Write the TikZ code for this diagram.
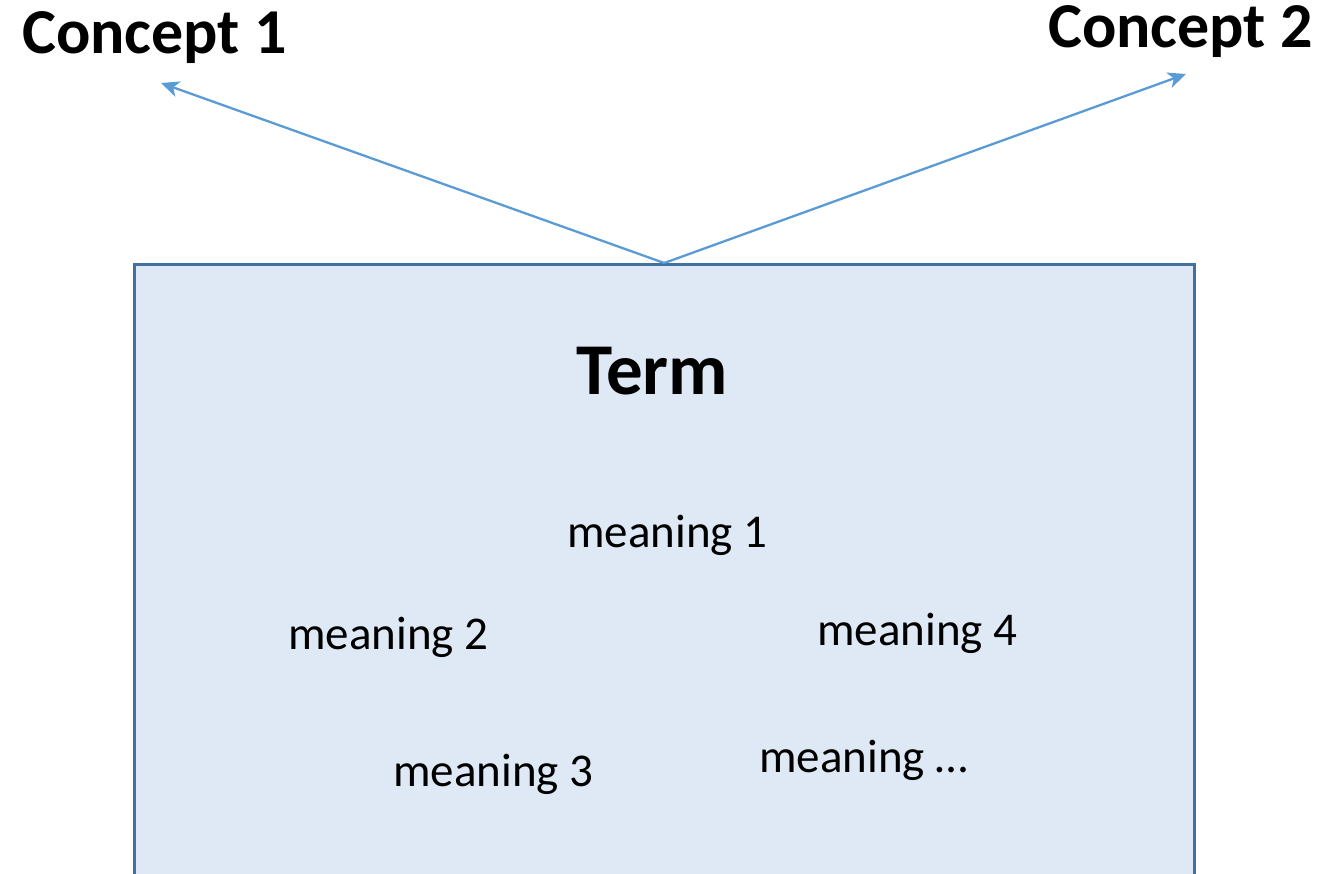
\documentclass[tikz,border=0pt]{standalone}
\usepackage{fontspec}
\setmainfont{Carlito}
\usetikzlibrary{arrows.meta}
\definecolor{boxfill}{HTML}{DEE9F5}
\definecolor{boxline}{HTML}{41719C}
\definecolor{linkblue}{HTML}{5B9BD5}
\tikzset{
  termbox/.style={draw=boxline, fill=boxfill, line width=2.5pt, inner sep=0pt,
    minimum width=1060pt, minimum height=640pt, anchor=north west},
  concept/.style={font=\fontsize{64}{70}\selectfont\bfseries, inner sep=0pt, anchor=base west},
  termlabel/.style={font=\fontsize{73}{80}\selectfont\bfseries, inner sep=0pt, anchor=base west},
  meaning/.style={font=\fontsize{47}{54}\selectfont, inner sep=0pt, anchor=base west},
  link/.style={draw=linkblue, line width=2.3pt, -{Stealth[length=18pt,width=16pt,inset=5pt]}}
}
\begin{document}
\begin{tikzpicture}[x=1pt,y=-1pt]
  \useasboundingbox (0,0) rectangle (1319,873);
  \clip (0,0) rectangle (1319,873);
  % the term box, running past the lower edge
  \node[termbox] (box) at (133,263) {};
  \node[termlabel] (term) at (576,394) {Term};
  \node[meaning] (m1) at (567,547) {meaning 1};
  \node[meaning] (m2) at (288,649) {meaning 2};
  \node[meaning] (m4) at (817,645) {meaning 4};
  \node[meaning] (m3) at (393,786) {meaning 3};
  \node[meaning] (mx) at (759,772) {meaning \dots};
  % concepts and the links pointing to them
  \node[concept] (c1) at (22,53) {Concept 1};
  \node[concept] (c2) at (1048,47) {Concept 2};
  \coordinate (c1tip) at (161,83);
  \coordinate (c2tip) at (1186,74);
  \draw[link] (box.north) -- (c1tip);
  \draw[link] (box.north) -- (c2tip);
\end{tikzpicture}
\end{document}
